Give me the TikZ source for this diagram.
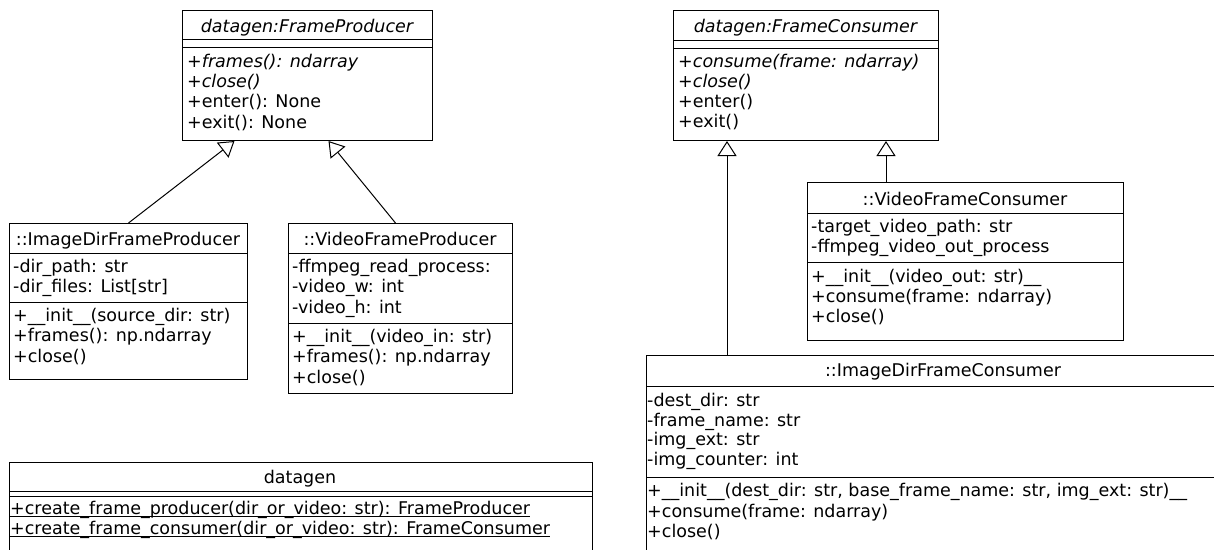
\documentclass[tikz,border=0pt]{standalone}
\usepackage{fontspec}
\setmainfont{DejaVu Sans}
\usetikzlibrary{arrows.meta}
\newcommand\staticul[1]{\setbox0\hbox{#1}\rlap{\rule[-3pt]{\wd0}{1pt}}\box0}
\begin{document}
\begin{tikzpicture}[x=1pt,y=-1pt,
  box/.style={draw, line width=1pt, inner sep=0, anchor=north west},
  txt/.style={anchor=base west, inner sep=0, font=\fontsize{17.5}{20}\selectfont},
  ttl/.style={anchor=base, inner sep=0, font=\fontsize{17.5}{20}\selectfont},
  sep/.style={line width=1pt},
  inh/.style={line width=1pt, -{Triangle[open, length=15pt, width=19pt, fill=white]}}
]
\useasboundingbox (0,0) rectangle (1214,549);
\clip (0,0) rectangle (1214,549);
\fill[white] (0,0) rectangle (1214,549);

% ---------- datagen:FrameProducer ----------
\node[box, minimum width=250, minimum height=130] (fp) at (182,10) {};
\draw[sep] (182,39) -- (432,39);
\draw[sep] (182,47) -- (432,47);
\node[ttl] (fpT) at (307,32) {\itshape datagen:FrameProducer};
\node[txt] (fp1) at (187,67) {\itshape +frames(): ndarray};
\node[txt] (fp2) at (187,87.4) {\itshape +close()};
\node[txt] (fp3) at (187,107.8) {+enter(): None};
\node[txt] (fp4) at (187,128.2) {+exit(): None};

% ---------- ::ImageDirFrameProducer ----------
\node[box, minimum width=238, minimum height=156] (idp) at (9,223) {};
\draw[sep] (9,253) -- (247,253);
\draw[sep] (9,302) -- (247,302);
\node[ttl] (idpT) at (128,245) {::ImageDirFrameProducer};
\node[txt] (idp1) at (13,272) {-dir\_path: str};
\node[txt] (idp2) at (13,292) {-dir\_files: List[str]};
\node[txt] (idp3) at (13,321) {+\_\_init\_\_(source\_dir: str)};
\node[txt] (idp4) at (13,341.5) {+frames(): np.ndarray};
\node[txt] (idp5) at (13,362) {+close()};

% ---------- ::VideoFrameProducer ----------
\node[box, minimum width=224, minimum height=170] (vp) at (288,223) {};
\draw[sep] (288,253) -- (512,253);
\draw[sep] (288,323) -- (512,323);
\node[ttl] (vpT) at (400,245) {::VideoFrameProducer};
\begin{scope}
\clip (288,253) rectangle (512,323);
\node[txt] (vp1) at (292,272) {-ffmpeg\_read\_process:};
\end{scope}
\node[txt] (vp2) at (292,292.5) {-video\_w: int};
\node[txt] (vp3) at (292,313) {-video\_h: int};
\node[txt] (vp4) at (292,342) {+\_\_init\_\_(video\_in: str)};
\node[txt] (vp5) at (292,362.5) {+frames(): np.ndarray};
\node[txt] (vp6) at (292,383) {+close()};

% ---------- datagen ----------
\node[box, minimum width=583, minimum height=200] (dg) at (9,462) {};
\draw[sep] (9,491) -- (592,491);
\draw[sep] (9,496) -- (592,496);
\node[ttl] (dgT) at (300,483) {datagen};
\begin{scope}
\clip (9,496) rectangle (592,549);
\node[txt] (dg1) at (10,514) {\staticul{+create\_frame\_producer(dir\_or\_video: str): FrameProducer}};
\node[txt] (dg2) at (10,534) {\staticul{+create\_frame\_consumer(dir\_or\_video: str): FrameConsumer}};
\end{scope}

% ---------- datagen:FrameConsumer ----------
\node[box, minimum width=265, minimum height=130] (fc) at (673,10) {};
\draw[sep] (673,40) -- (938,40);
\draw[sep] (673,48) -- (938,48);
\node[ttl] (fcT) at (805.5,32) {\itshape datagen:FrameConsumer};
\node[txt] (fc1) at (678,67) {\itshape +consume(frame: ndarray)};
\node[txt] (fc2) at (678,87) {\itshape +close()};
\node[txt] (fc3) at (678,107) {+enter()};
\node[txt] (fc4) at (678,127) {+exit()};

% ---------- ::VideoFrameConsumer ----------
\node[box, minimum width=316, minimum height=158] (vfc) at (807,182) {};
\draw[sep] (807,213) -- (1123,213);
\draw[sep] (807,262) -- (1123,262);
\node[ttl] (vfcT) at (965,205) {::VideoFrameConsumer};
\node[txt] (vfc1) at (811,232.5) {-target\_video\_path: str};
\node[txt] (vfc2) at (811,252.5) {-ffmpeg\_video\_out\_process};
\node[txt] (vfc3) at (811,282) {+\_\_init\_\_(video\_out: str)\_\_};
\node[txt] (vfc4) at (811,302) {+consume(frame: ndarray)};
\node[txt] (vfc5) at (811,322.5) {+close()};

% ---------- ::ImageDirFrameConsumer ----------
\node[box, minimum width=594, minimum height=300] (idfc) at (646,355) {};
\draw[sep] (646,386) -- (1240,386);
\draw[sep] (646,477) -- (1240,477);
\node[ttl] (idfcT) at (943,376) {::ImageDirFrameConsumer};
\node[txt] (idfc1) at (647,406.5) {-dest\_dir: str};
\node[txt] (idfc2) at (647,426) {-frame\_name: str};
\node[txt] (idfc3) at (647,445.5) {-img\_ext: str};
\node[txt] (idfc4) at (647,465) {-img\_counter: int};
\node[txt] (idfc5) at (647,496.5) {+\_\_init\_\_(dest\_dir: str, base\_frame\_name: str, img\_ext: str)\_\_};
\node[txt] (idfc6) at (647,517) {+consume(frame: ndarray)};
\node[txt] (idfc7) at (647,537.5) {+close()};

% ---------- generalisations ----------
\draw[inh] (idp.north) -- ([xshift=-73pt]fp.south);
\draw[inh] ([xshift=-5pt]vp.north) -- ([xshift=21pt]fp.south);
\draw[inh] ([xshift=81pt]idfc.north west) -- ([xshift=54pt]fc.south west);
\draw[inh] ([xshift=79pt]vfc.north west) -- ([xshift=213pt]fc.south west);
\end{tikzpicture}
\end{document}
